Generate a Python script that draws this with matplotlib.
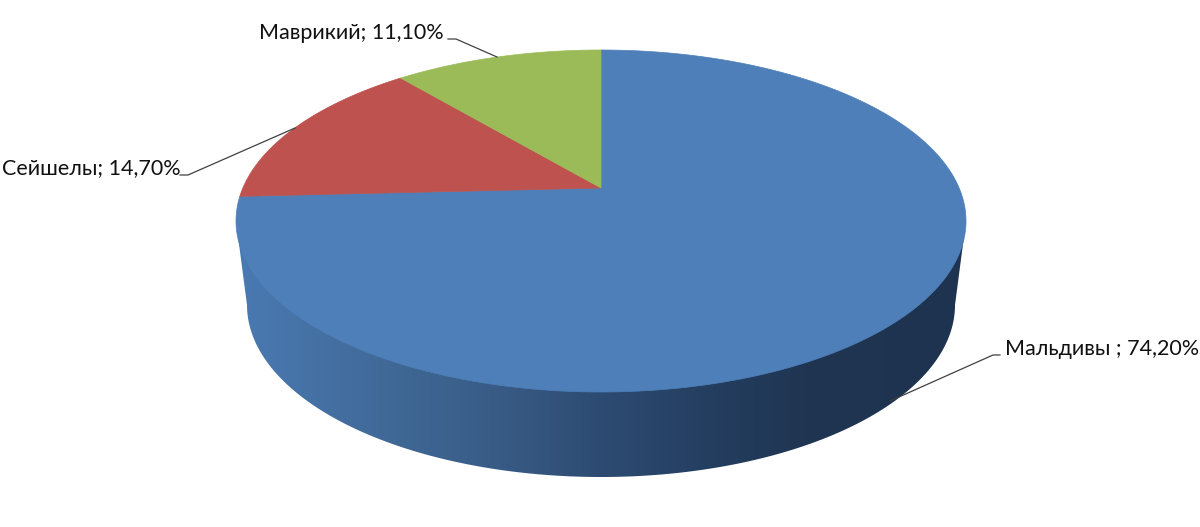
import numpy as np
import matplotlib
matplotlib.use("Agg")
import matplotlib.pyplot as plt
from matplotlib.patches import Polygon
from matplotlib.colors import LinearSegmentedColormap

plt.rcParams['font.family'] = ['Lato', 'Open Sans', 'DejaVu Sans']

categories = ["Мальдивы", "Сейшелы", "Маврикий"]
values = [74.2, 14.7, 11.1]
labels = ["Мальдивы ; 74,20%", "Сейшелы; 14,70%", "Маврикий; 11,10%"]
colors = ["#4E7FB9", "#BD524E", "#9BBB59"]

# perspective of the pie's top face and bottom face (in pixels)
CX, CY = 601, 188
TOP_Y, BOT_Y, HALF_W = 50, 392, 365
B_CX, B_TOPY, B_BOTY, B_HALF_W = 601, 133, 477, 354


def persp(theta, r, cx, cy, top, bot, half_w):
    """theta: clockwise from 12 o'clock; returns pixel coordinates."""
    up, down = cy - top, bot - cy
    c = (down - up) / (down + up)
    h = up * (1 + c)
    a = half_w * np.sqrt(1 - c ** 2)
    u, v = r * np.sin(theta), r * np.cos(theta)
    d = 1 + c * v
    return cx + a * u / d, cy - h * v / d


fig = plt.figure(figsize=(12, 5.27), dpi=100)
ax = fig.add_axes([0, 0, 1, 1])
ax.set_xlim(0, 1200)
ax.set_ylim(527, 0)
ax.axis("off")

# side wall
t = np.linspace(np.pi / 2, 3 * np.pi / 2, 300)
bx, by = persp(t, 1, B_CX, (B_TOPY + B_BOTY) / 2, B_TOPY, B_BOTY, B_HALF_W)
side_pts = np.column_stack([np.r_[966, bx, 236], np.r_[221, by, 221]])
side = Polygon(side_pts, closed=True, fc="none", ec="none", transform=ax.transData)
ax.add_patch(side)
cmap = LinearSegmentedColormap.from_list("side", [
    (0.0, "#4A7AB3"), (0.23, "#3F6794"), (0.37, "#375A84"), (0.50, "#2D4B72"),
    (0.64, "#253F61"), (0.78, "#1F3552"), (1.0, "#1D3350")])
grad = ax.imshow(np.linspace(0, 1, 256)[None, :], cmap=cmap, aspect="auto",
                 extent=(236, 966, 490, 190), zorder=1)
grad.set_clip_path(side)
ax.set_xlim(0, 1200)
ax.set_ylim(527, 0)

# top face
edges = np.r_[0, np.cumsum(values)] / np.sum(values) * 2 * np.pi
for start, end, col in zip(edges[:-1], edges[1:], colors):
    th = np.linspace(start, end, 300)
    x, y = persp(th, 1, CX, CY, TOP_Y, BOT_Y, HALF_W)
    ax.fill(np.r_[CX, x], np.r_[CY, y], fc=col, ec=col, lw=0.5, zorder=2)

# leader lines and labels
leaders = [
    ([1000, 993, 890], [355, 355, 401]),
    ([180, 188, 295], [175, 175, 128]),
    ([448, 456, 497], [39, 39, 57]),
]
label_pos = [(1005, 355), (2, 174), (259, 39)]
for (lx, ly), (px, py), text in zip(leaders, label_pos, labels):
    ax.plot(lx, ly, color="#404040", lw=0.9, zorder=3)
    ax.text(px, py, text, ha="left", va="baseline", fontsize=15.5, color="#111111", zorder=4)

fig.savefig("out.png", dpi=100, facecolor="white")
